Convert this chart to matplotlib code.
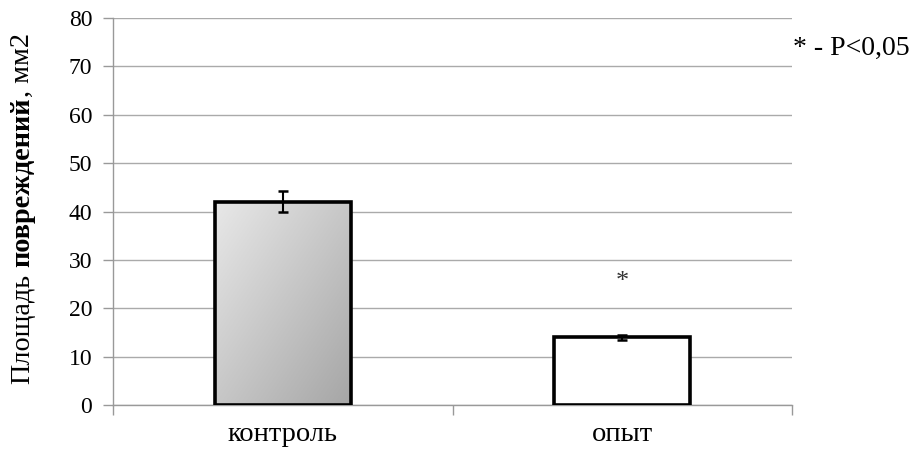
import numpy as np
import matplotlib
matplotlib.use('Agg')
import matplotlib.pyplot as plt
from matplotlib.colors import LinearSegmentedColormap

# data
categories = ['контроль', 'опыт']
values = [42, 14]
errors = [2.2, 0.5]
star_y = 25.5
ylabel_parts = [('Площадь', 'normal'), ('повреждений', 'bold'), (', мм2', 'normal')]

plt.rcParams['font.family'] = ['Liberation Serif', 'DejaVu Serif']

W, H = 918, 453
fig = plt.figure(figsize=(W / 100, H / 100), dpi=100)
ax = fig.add_axes([113/W, 48/H, 679/W, 387/H])

x = np.arange(len(categories))
bars = ax.bar(x, values, width=0.4, color=['none', 'white'],
              edgecolor='black', linewidth=2.6, zorder=3)

# gradient fill for the control bar (light top-left -> darker bottom-right)
b = bars[0]
bx, by = b.get_x(), b.get_y()
bw, bh = b.get_width(), b.get_height()
gx, gy = np.meshgrid(np.linspace(0, 1, 100), np.linspace(0, 1, 100))
grad = (gx + gy) / 2
cmap = LinearSegmentedColormap.from_list('g', ['#e8e8e8', '#a6a6a6'])
im = ax.imshow(grad, cmap=cmap, vmin=0, vmax=1,
               extent=[bx, bx + bw, by, by + bh], origin='upper',
               aspect='auto', zorder=2.5, interpolation='bilinear')
im.set_clip_path(b)

ax.errorbar(x, values, yerr=errors, fmt='none', ecolor='black',
            elinewidth=1.5, capsize=3.6, capthick=1.8, zorder=4)

ax.text(1, star_y, '*', ha='center', va='center', fontsize=19, color='#333333')

ax.set_xlim(-0.5, 1.5)
ax.set_ylim(0, 80)
ax.set_yticks(range(0, 81, 10))
ax.set_xticks(x)
ax.set_xticklabels(categories, fontsize=20.5)
ax.set_xticks([-0.5, 0.5, 1.5], minor=True)
ax.tick_params(axis='x', which='major', length=0, pad=12)
ax.tick_params(axis='x', which='minor', length=7, color='#999999', width=1)
ax.tick_params(axis='y', length=7, color='#999999', width=1, labelsize=17, pad=8)
ax.yaxis.grid(True, color='#aaaaaa', linewidth=1, zorder=0)
ax.set_axisbelow(True)
for s in ['top', 'right']:
    ax.spines[s].set_visible(False)
for s in ['left', 'bottom']:
    ax.spines[s].set_color('#999999')
    ax.spines[s].set_linewidth(1)

# y label with mixed weights: stack the pieces from the bottom up
r = fig.canvas.get_renderer()
lab_size = 20.3
space = lab_size * 0.25 * 100 / 72
ypos = H - 384  # pixels from the bottom
for i, (txt, wt) in enumerate(ylabel_parts):
    t = fig.text(29 / W, ypos / H, txt, rotation=90, rotation_mode='anchor',
                 ha='left', va='baseline', fontsize=lab_size, fontweight=wt)
    ypos += t.get_window_extent(r).height
    if i == 0:
        ypos += space

fig.text(793/W, 1 - 48/H, '* - P<0,05', fontsize=20, va='center', ha='left')

fig.savefig('out.png', dpi=100)
